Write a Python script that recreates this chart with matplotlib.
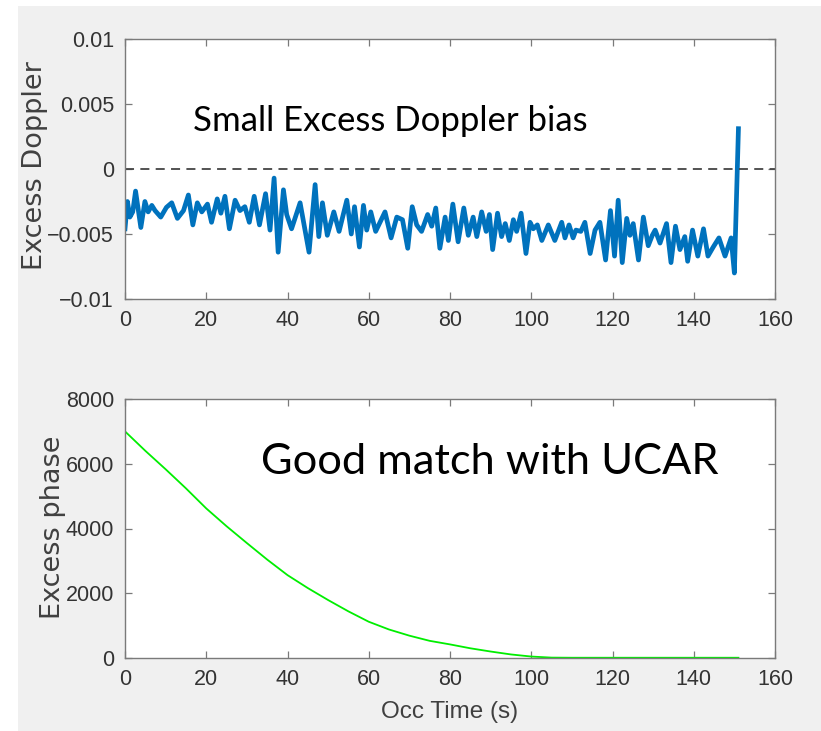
import matplotlib
matplotlib.use("Agg")
import matplotlib.pyplot as plt
from matplotlib.patches import Rectangle

# excess doppler (units of 1e-3)
dop_t = [0, 0.6, 1.2, 1.9, 2.6, 3.9, 4.9, 5.7, 6.6, 7.4, 8.8, 10.2, 11.5, 12.9, 14.4,
         15.6, 16.7, 17.8, 18.9, 20.3, 21.3, 22.7, 23.6, 24.6, 25.7, 27.1, 28.3, 29.5,
         30.6, 31.8, 33.1, 34.6, 35.7, 36.7, 37.7, 39.0, 39.8, 41.0, 43.1, 45.3, 46.8,
         47.7, 48.6, 49.8, 51.4, 52.7, 54.6, 55.7, 56.5, 57.7, 58.7, 59.5, 60.5, 61.7,
         64.0, 65.5, 66.9, 68.3, 69.6, 70.7, 71.8, 73.0, 74.5, 75.5, 76.5, 77.5, 78.8,
         79.6, 80.7, 82.0, 83.4, 84.5, 85.7, 86.6, 87.8, 88.9, 89.7, 90.5, 91.7, 92.7,
         93.6, 94.6, 95.6, 96.4, 97.5, 98.7, 99.7, 100.5, 101.5, 102.6, 104.2, 105.8,
         107.5, 108.3, 109.3, 110.3, 111.0, 112.2, 113.2, 114.5, 115.7, 116.9, 118.3,
         119.5, 120.5, 121.4, 122.4, 123.5, 124.3, 125.1, 126.4, 127.6, 128.8, 129.8,
         130.5, 131.7, 133.3, 134.4, 135.5, 136.6, 137.8, 138.5, 139.7, 141.0, 142.4,
         143.5, 144.8, 146.2, 147.7, 149.2, 150.0, 151.0]
dop_v = [-4.6, -2.5, -3.7, -3.3, -1.7, -4.5, -2.5, -3.3, -2.8, -3.2, -3.7, -2.95, -2.6, -3.8, -3.2,
         -2.0, -4.3, -2.6, -3.3, -2.7, -4.1, -2.3, -3.4, -2.1, -4.6, -2.4, -3.2, -2.9,
         -4.1, -2.1, -4.3, -1.9, -4.7, -0.7, -6.4, -1.6, -3.5, -4.6, -2.6, -6.4, -1.2,
         -5.2, -2.6, -5.1, -3.3, -4.8, -2.4, -5.0, -2.9, -6.0, -2.8, -4.7, -3.3, -4.8,
         -3.3, -5.3, -3.7, -3.9, -6.1, -2.9, -4.3, -4.8, -3.5, -4.4, -3.0, -6.1, -3.7,
         -5.5, -2.7, -5.6, -3.0, -5.1, -3.7, -5.2, -3.3, -4.8, -3.5, -6.2, -3.4, -5.2,
         -4.2, -5.5, -3.9, -4.8, -3.4, -6.5, -4.1, -4.6, -4.3, -5.5, -4.3, -5.5,
         -4.1, -5.3, -4.3, -5.3, -4.7, -4.8, -4.1, -6.5, -4.7, -4.1, -7.0,
         -3.2, -6.7, -2.4, -7.2, -3.8, -5.1, -4.2, -7.0, -3.7, -5.9, -5.1,
         -4.7, -5.7, -4.2, -7.2, -4.4, -6.2, -5.2, -7.1, -4.7, -6.7, -4.6,
         -6.7, -6.0, -5.3, -6.7, -5.3, -8.0, 3.1]

# excess phase
ph_t = [0, 5, 10, 15, 20, 25, 30, 35, 40, 45, 50, 55, 60, 65, 70, 75, 80, 85, 90, 95,
        100, 105, 110, 120, 130, 140, 151]
ph_v = [7000, 6400, 5830, 5240, 4620, 4070, 3550, 3040, 2560, 2160, 1790, 1440, 1120,
        880, 690, 530, 420, 300, 200, 110, 45, 12, 8, 8, 8, 8, 8]

W, H = 821, 731
fig = plt.figure(figsize=(W / 100, H / 100), dpi=100, facecolor="white")
fig.patches.append(Rectangle((18 / W, 0), 1, 1 - 6 / H, transform=fig.transFigure,
                             facecolor="#f0f0f0", edgecolor="none", zorder=-10))

tick_font = "Liberation Sans"
label_col = "#404040"


def style_axes(ax):
    for s in ax.spines.values():
        s.set_color("#7a7a7a")
        s.set_linewidth(1.0)
    ax.tick_params(direction="in", length=5, width=0.9, color="#7a7a7a",
                   top=True, right=True, labelsize=15.5, labelcolor="#333333", pad=8)
    for lab in ax.get_xticklabels() + ax.get_yticklabels():
        lab.set_family(tick_font)
    ax.set_facecolor("white")


ax1 = fig.add_axes([125 / W, 1 - 299 / H, 650 / W, 260 / H])
ax1.plot(dop_t, [v * 1e-3 for v in dop_v], color="#0072BD", lw=3.4,
         solid_joinstyle="round")
ax1.axhline(0, color="#444444", lw=1.3, ls=(0, (5, 3.5)))
ax1.set_xlim(0, 160)
ax1.set_ylim(-0.01, 0.01)
ax1.set_xticks(range(0, 161, 20))
ax1.set_yticks([-0.01, -0.005, 0, 0.005, 0.01])
ax1.set_yticklabels(["\u22120.01", "\u22120.005", "0", "0.005", "0.01"])
style_axes(ax1)
fig.text(35 / W, 1 - 166 / H, "Excess Doppler", rotation=90, ha="center", va="center",
         fontsize=19.5, color=label_col, family="DejaVu Sans")
fig.text(390 / W, 1 - 121 / H, "Small Excess Doppler bias", ha="center", va="center",
         fontsize=25, color="black", family="Lato")

ax2 = fig.add_axes([125 / W, 1 - 658 / H, 650 / W, 259 / H])
ax2.plot(ph_t, ph_v, color="#00ee00", lw=1.3)
ax2.set_xlim(0, 160)
ax2.set_ylim(0, 8000)
ax2.set_xticks(range(0, 161, 20))
ax2.set_yticks(range(0, 8001, 2000))
style_axes(ax2)
fig.text(53 / W, 1 - 527 / H, "Excess phase", rotation=90, ha="center", va="center",
         fontsize=19.5, color=label_col, family="DejaVu Sans")
fig.text(450 / W, 1 - 712 / H, "Occ Time (s)", ha="center", va="center",
         fontsize=17.5, color=label_col, family=tick_font)
fig.text(490 / W, 1 - 462 / H, "Good match with UCAR", ha="center", va="center",
         fontsize=31.2, color="black", family="Lato")

fig.savefig("out.png", dpi=100, facecolor=fig.get_facecolor())
